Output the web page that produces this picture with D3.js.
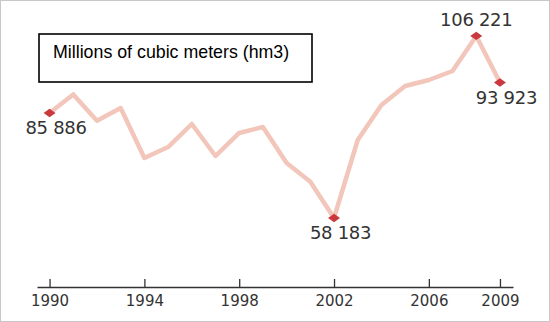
<!DOCTYPE html>
<html><head><meta charset="utf-8">
<script src="https://cdn.jsdelivr.net/npm/d3@7"></script>
<style>body{margin:0;background:#fff}svg{display:block}</style>
</head><body>
<script>
const years = [1990,1991,1992,1993,1994,1995,1996,1997,1998,1999,2000,2001,2002,2003,2004,2005,2006,2007,2008,2009];
const values = [85886,90770,83850,87200,74010,76900,82980,74540,80610,82190,72690,67760,58183,78760,88000,93010,94590,96970,106221,93923];
const labelledYears = [1990,2002,2008,2009];
const tickYears = [1990,1994,1998,2002,2006,2009];
const title = "Millions of cubic meters (hm3)";

const W = 550, H = 322;
const svg = d3.select("body").append("svg").attr("width", W).attr("height", H);
svg.append("rect").attr("x",0.5).attr("y",0.5).attr("width",W-1).attr("height",H-1)
  .attr("fill","#fff").attr("stroke","#c8c8c8");

const x = d3.scaleLinear().domain([1989.47, 2009.55]).range([37, 513]);
const y = d3.scaleLinear().domain([50000, 110000]).range([249, 21.6]);
const data = years.map((yr,i)=>({yr, v: values[i]}));

// title box
svg.append("rect").attr("x",39).attr("y",34).attr("width",273).attr("height",48)
  .attr("fill","#fff").attr("stroke","#000").attr("stroke-width",1.6);
svg.append("text").attr("x",53).attr("y",57.5).attr("font-family","Liberation Sans, Arial, sans-serif")
  .attr("font-size",17.8).attr("fill","#000").text(title);

// axis
const axis = d3.axisBottom(x).tickValues(tickYears).tickFormat(d3.format("d")).tickSizeInner(-8).tickSizeOuter(0);
const ag = svg.append("g").attr("transform","translate(0,287)").call(axis);
ag.select(".domain").attr("stroke","#333").attr("stroke-width",1.5);
ag.selectAll(".tick line").attr("stroke","#333").attr("stroke-width",1.3);
ag.selectAll(".tick text").attr("y",19).attr("dy",0).attr("fill","#333")
  .attr("font-family","DejaVu Sans, sans-serif").attr("font-size",15);

// line
const line = d3.line().x(d=>x(d.yr)).y(d=>y(d.v));
svg.append("path").datum(data).attr("d",line).attr("fill","none")
  .attr("stroke","#f2c6ba").attr("stroke-width",4.5).attr("stroke-linejoin","round").attr("stroke-linecap","round");

// markers + labels
const lab = data.filter(d=>labelledYears.includes(d.yr));
const maxV = d3.max(values);
const fmt = v => d3.format(",")(v).replace(/,/g," ");
svg.selectAll(".mk").data(lab).enter().append("path")
  .attr("d", d=>{const cx=x(d.yr), cy=y(d.v); return `M${cx-6},${cy}L${cx},${cy-4.2}L${cx+6},${cy}L${cx},${cy+4.2}Z`;})
  .attr("fill","#c9393d");
svg.selectAll(".lb").data(lab).enter().append("text")
  .attr("x", d=> x(d.yr) + (d.v===maxV ? 0 : 6.5))
  .attr("y", d=> y(d.v) + (d.v===maxV ? -10 : 21.5))
  .attr("text-anchor","middle").attr("font-family","DejaVu Sans, sans-serif")
  .attr("font-size",18).attr("fill","#333").attr("letter-spacing","-0.3")
  .text(d=>fmt(d.v));
</script>
</body></html>
